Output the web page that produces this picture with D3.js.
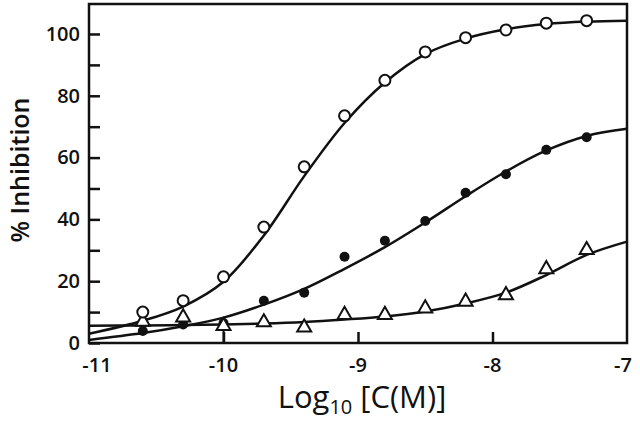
<!DOCTYPE html>
<html><head><meta charset="utf-8">
<script src="https://cdn.jsdelivr.net/npm/d3@7"></script>
<style>body{margin:0;background:#fff}svg{display:block}text{font-family:"Open Sans","Noto Sans",sans-serif;fill:#111}</style>
</head><body><svg id="c" width="640" height="421"></svg>
<script>
const logC = [-10.6,-10.3,-10.0,-9.7,-9.4,-9.1,-8.8,-8.5,-8.2,-7.9,-7.6,-7.3];
const openVals = [10.0,13.7,21.4,37.5,57.0,73.5,85.0,94.2,98.8,101.3,103.5,104.3];
const filledVals = [3.9,6.0,6.5,13.7,16.3,27.9,33.1,39.5,48.6,54.6,62.5,66.6];
const triVals = [6.9,8.3,5.5,6.7,5.0,9.1,9.1,11.2,13.4,15.5,23.9,30.1];
const triErrLow = [null,null,0,null,null,null,null,null,null,null,null,null];
// fitted curves
const curveX = [-11,-10.6,-10.3,-10.0,-9.7,-9.4,-9.1,-8.8,-8.5,-8.2,-7.9,-7.6,-7.3,-7.0];
const openFit = [3.0,7.2,11.8,19.8,34.8,54.0,71.2,84.3,93.5,98.5,101.5,103.2,104.0,104.3];
const filledFit = [1.0,3.2,5.4,8.2,12.4,17.5,24.0,31.0,39.0,47.5,55.5,62.3,67.0,69.3];
const triFit = [5.6,5.7,5.8,6.0,6.3,6.8,7.6,8.6,10.2,12.8,16.3,22.0,28.5,32.8];
const xTicks = [-11,-10,-9,-8,-7];
const yTicks = [0,20,40,60,80,100];
const yMinor = [10,30,50,70,90];

const svg = d3.select("#c");
const L=89,R=627,T=4,B=343;
const x = d3.scaleLinear().domain([-11,-7]).range([L,R]);
const y = d3.scaleLinear().domain([0,109.7]).range([B,T]);

// frame
svg.append("rect").attr("x",L).attr("y",T).attr("width",R-L).attr("height",B-T)
  .attr("fill","none").attr("stroke","#111").attr("stroke-width",2.5);

// y axis
const ya = svg.append("g").attr("transform",`translate(${L},0)`)
  .call(d3.axisRight(y).tickValues(yTicks.concat(yMinor)).tickSize(11).tickFormat(""));
ya.select(".domain").remove();
ya.selectAll("line").attr("stroke","#111").attr("stroke-width",2.5);
svg.append("g").selectAll("text").data(yTicks).join("text")
  .attr("x",L-9).attr("y",d=>y(d)).attr("dy","0.34em").attr("text-anchor","end")
  .attr("font-size",20).attr("font-weight",600).text(d=>d);

// x axis
const xa = svg.append("g").attr("transform",`translate(0,${B})`)
  .call(d3.axisTop(x).tickValues(xTicks.slice(1,-1)).tickSize(11).tickFormat(""));
xa.select(".domain").remove();
xa.selectAll("line").attr("stroke","#111").attr("stroke-width",2.5);
svg.append("g").selectAll("text").data(xTicks).join("text")
  .attr("x",d=>x(d)).attr("dx",(d,i)=>i===0?8:(i===xTicks.length-1?-4:0))
  .attr("y",B+29).attr("text-anchor","middle")
  .attr("font-size",20).attr("font-weight",600).text(d=>d);

// titles
svg.append("text").attr("transform","translate(29,170) rotate(-90)").attr("text-anchor","middle")
  .attr("font-size",25).attr("font-weight",600).text("% Inhibition");
const xt = svg.append("text").attr("x",362).attr("y",408).attr("text-anchor","middle")
  .attr("font-size",31).attr("font-weight",500);
xt.append("tspan").text("Log");
xt.append("tspan").attr("font-size",20).attr("dy",6).text("10");
xt.append("tspan").attr("dy",-6).text(" [C(M)]");

// curves
const line = d3.line().x((d,i)=>x(curveX[i])).y(d=>y(d)).curve(d3.curveCatmullRom.alpha(0.5));
[openFit,filledFit,triFit].forEach(f=>{
  svg.append("path").attr("d",line(f)).attr("fill","none").attr("stroke","#111").attr("stroke-width",2.5);
});

// error bars
svg.append("g").selectAll("line").data(logC.map((c,i)=>({c,v:triVals[i],e:triErrLow[i]})).filter(d=>d.e!==null))
  .join("line").attr("x1",d=>x(d.c)).attr("x2",d=>x(d.c)).attr("y1",d=>y(d.v)).attr("y2",d=>y(d.e))
  .attr("stroke","#111").attr("stroke-width",2);

// markers
svg.append("g").selectAll("circle").data(filledVals).join("circle")
  .attr("cx",(d,i)=>x(logC[i])).attr("cy",d=>y(d)).attr("r",5).attr("fill","#111");
const tri = d3.symbol().type(d3.symbolTriangle).size(85);
svg.append("g").selectAll("path").data(triVals).join("path")
  .attr("transform",(d,i)=>`translate(${x(logC[i])},${y(d)})`).attr("d",tri())
  .attr("fill","#fff").attr("stroke","#111").attr("stroke-width",2);
svg.append("g").selectAll("circle").data(openVals).join("circle")
  .attr("cx",(d,i)=>x(logC[i])).attr("cy",d=>y(d)).attr("r",5.5).attr("fill","#fff")
  .attr("stroke","#111").attr("stroke-width",2);
</script></body></html>
